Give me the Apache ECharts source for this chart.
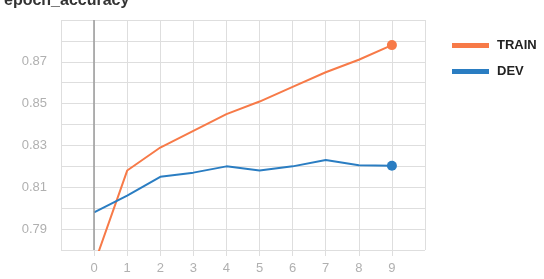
<!DOCTYPE html>
<html>
<head>
<meta charset="utf-8">
<script src="https://cdn.jsdelivr.net/npm/echarts@6/dist/echarts.min.js"></script>
<style>
  html, body { margin: 0; padding: 0; background: #fff; }
  #chart1 { width: 544px; height: 279px; }
</style>
</head>
<body>
<div id="chart1"></div>
<script>
var epochs = [0, 1, 2, 3, 4, 5, 6, 7, 8, 9];
var train_acc = [0.773, 0.818, 0.829, 0.837, 0.845, 0.851, 0.858, 0.865, 0.871, 0.878];
var dev_acc = [0.798, 0.806, 0.815, 0.817, 0.820, 0.818, 0.820, 0.823, 0.8205, 0.8203];
var color1 = '#f77a48';
var color2 = '#2a7dc2';
var font = "'Liberation Sans', Arial, sans-serif";

// only the last point of each run gets a dot
function toPoints(values) {
  return values.map(function (v, i) {
    return { value: [epochs[i], v], symbolSize: i == values.length - 1 ? 10 : 0 };
  });
}

var chartDom1 = document.getElementById('chart1');
var myChart1 = echarts.init(chartDom1);

var option1 = {
  animation: false,
  title: {
    text: 'epoch_accuracy',
    left: -1,
    top: -12,
    textStyle: { fontFamily: font, fontSize: 16, fontWeight: 'bold', color: '#333' }
  },
  legend: {
    orient: 'vertical',
    left: 447,
    top: 34,
    icon: 'rect',
    itemWidth: 37,
    itemHeight: 5,
    itemGap: 13,
    textStyle: { fontFamily: font, fontSize: 13, fontWeight: 'bold', color: '#222', padding: [0, 0, 0, 3] },
    data: ['TRAIN', 'DEV']
  },
  grid: { left: 61, right: 119, top: 20, bottom: 29 },
  xAxis: {
    type: 'value',
    min: -1,
    max: 10,
    interval: 1,
    axisLine: { show: false },
    axisTick: { show: true, length: 6, lineStyle: { color: '#dedede' } },
    splitLine: { show: true, lineStyle: { color: '#dedede', width: 1 } },
    axisLabel: {
      margin: 12,
      fontFamily: font,
      fontSize: 13,
      color: '#b0b0b0',
      showMinLabel: false,
      showMaxLabel: false,
      formatter: function (v) {
        return (v < 0 || v > 9) ? '' : String(v);
      }
    }
  },
  yAxis: {
    type: 'value',
    min: 0.78,
    max: 0.89,
    interval: 0.01,
    axisLine: { show: false },
    axisTick: { show: true, length: 6, lineStyle: { color: '#dedede' } },
    splitLine: { show: true, lineStyle: { color: '#dedede', width: 1 } },
    axisLabel: {
      margin: 14,
      fontFamily: font,
      fontSize: 13,
      color: '#b0b0b0',
      formatter: function (v) {
        var k = Math.round(v * 100);
        return (k % 2 == 1 && k < 89) ? v.toFixed(2) : '';
      }
    }
  },
  series: [
    {
      name: 'TRAIN',
      type: 'line',
      data: toPoints(train_acc),
      color: color1,
      symbol: 'circle',
      showSymbol: true,
      lineStyle: { width: 2 },
      markLine: {
        silent: true,
        symbol: 'none',
        label: { show: false },
        lineStyle: { color: '#9a9a9a', type: 'solid', width: 1.5 },
        data: [{ xAxis: 0 }]
      }
    },
    {
      name: 'DEV',
      type: 'line',
      data: toPoints(dev_acc),
      color: color2,
      symbol: 'circle',
      showSymbol: true,
      lineStyle: { width: 2 }
    }
  ]
};

myChart1.setOption(option1);
</script>
</body>
</html>
